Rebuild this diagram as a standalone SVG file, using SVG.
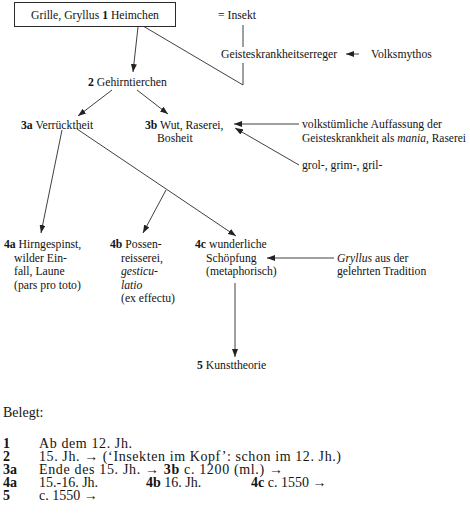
<svg xmlns="http://www.w3.org/2000/svg" width="470" height="518" viewBox="0 0 470 518">
<defs>
<marker id="ah" markerUnits="userSpaceOnUse" markerWidth="8" markerHeight="6" refX="8" refY="3" orient="auto">
<path d="M0,0 L8,3 L0,6 z" fill="#222"/>
</marker>
<style>
text{font-family:"Liberation Serif","Times New Roman",serif;font-size:11.7px;fill:#141414}
#belegt text{font-size:14px}
.b{font-weight:bold}
.i{font-style:italic}
.c line,.c polyline{stroke:#2a2a2a;stroke-width:0.9;fill:none}
.a{marker-end:url(#ah)}
</style>
</defs>
<rect width="470" height="518" fill="#fff"/>

<g class="c" id="connectors">
<line x1="243" y1="25" x2="243" y2="47"/>
<polyline points="143,26 243,85 243,63"/>
<line class="a" x1="359" y1="54" x2="346" y2="54"/>
<line class="a" x1="138" y1="27" x2="133" y2="72"/>
<line class="a" x1="112" y1="90" x2="78" y2="116"/>
<line class="a" x1="137" y1="90" x2="168" y2="114"/>
<line class="a" x1="299" y1="124" x2="234" y2="124"/>
<line class="a" x1="299" y1="165" x2="235" y2="128"/>
<line class="a" x1="62" y1="130" x2="41" y2="233"/>
<line class="a" x1="77" y1="129" x2="236" y2="236"/>
<line class="a" x1="166" y1="190" x2="143" y2="233"/>
<line class="a" x1="334" y1="258" x2="267" y2="258"/>
<line class="a" x1="235" y1="283" x2="235" y2="357"/>
</g>

<g id="n1">
<rect x="14.5" y="2.5" width="161" height="24" fill="#fff" stroke="#2a2a2a" stroke-width="1"/>
<text x="95" y="19" text-anchor="middle">Grille, Gryllus <tspan class="b">1</tspan> Heimchen</text>
</g>
<g id="insekt"><text x="218" y="19">= Insekt</text></g>
<g id="erreger"><text x="221" y="58">Geisteskrankheitserreger</text></g>
<g id="volksmythos"><text x="371" y="58">Volksmythos</text></g>
<g id="n2"><text x="88" y="86"><tspan class="b">2</tspan> Gehirntierchen</text></g>
<g id="n3a"><text x="21" y="129"><tspan class="b">3a</tspan> Verrücktheit</text></g>
<g id="n3b">
<text x="145" y="129"><tspan class="b">3b</tspan> Wut, Raserei,</text>
<text x="157" y="142">Bosheit</text>
</g>
<g id="auffassung">
<text x="302" y="128">volkstümliche Auffassung der</text>
<text x="302" y="142" textLength="164" lengthAdjust="spacingAndGlyphs">Geisteskrankheit als <tspan class="i">mania,</tspan> Raserei</text>
</g>
<g id="grol"><text x="302" y="169">grol-, grim-, gril-</text></g>
<g id="n4a">
<text x="4" y="248"><tspan class="b">4a</tspan> Hirngespinst,</text>
<text x="14" y="261.5">wilder Ein-</text>
<text x="14" y="275">fall, Laune</text>
<text x="14" y="288.5">(pars pro toto)</text>
</g>
<g id="n4b">
<text x="110" y="248"><tspan class="b">4b</tspan> Possen-</text>
<text x="121" y="261.5">reisserei,</text>
<text x="121" y="275" class="i">gesticu-</text>
<text x="121" y="288.5" class="i">latio</text>
<text x="121" y="302">(ex effectu)</text>
</g>
<g id="n4c">
<text x="195" y="248"><tspan class="b">4c</tspan> wunderliche</text>
<text x="206" y="261.5">Schöpfung</text>
<text x="206" y="275">(metaphorisch)</text>
</g>
<g id="gryllus">
<text x="337" y="261.5"><tspan class="i">Gryllus</tspan> aus der</text>
<text x="337" y="275">gelehrten Tradition</text>
</g>
<g id="n5"><text x="197" y="369"><tspan class="b">5</tspan> Kunsttheorie</text></g>

<g id="belegt">
<text x="3" y="417">Belegt:</text>
<text x="3" y="448" class="b">1</text>
<text x="39" y="448" textLength="93" lengthAdjust="spacing">Ab dem 12. Jh.</text>
<text x="3" y="461" class="b">2</text>
<text x="39" y="461" textLength="302" lengthAdjust="spacing">15. Jh. → (‘Insekten im Kopf’: schon im 12. Jh.)</text>
<text x="3" y="474" class="b">3a</text>
<text x="39" y="474" textLength="244" lengthAdjust="spacing">Ende des 15. Jh. → <tspan class="b">3b</tspan> c. 1200 (ml.) →</text>
<text x="3" y="487" class="b">4a</text>
<text x="39" y="487">15.-16. Jh.</text>
<text x="146" y="487"><tspan class="b">4b</tspan> 16. Jh.</text>
<text x="251" y="487"><tspan class="b">4c</tspan> c. 1550 →</text>
<text x="3" y="500" class="b">5</text>
<text x="39" y="500">c. 1550 →</text>
</g>
</svg>
